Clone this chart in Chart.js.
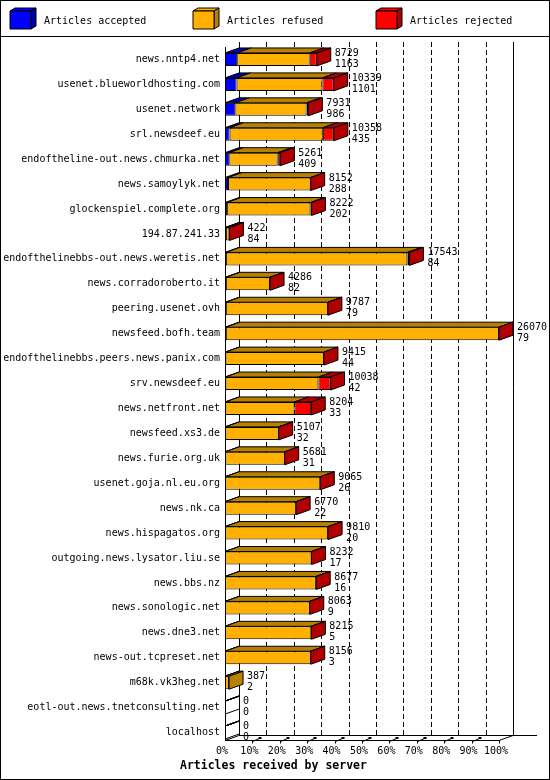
<!DOCTYPE html>
<html>
<head>
<meta charset="utf-8">
<script src="https://cdn.jsdelivr.net/npm/chart.js@4"></script>
<style>
html, body { margin: 0; padding: 0; background: #fff; }
canvas { display: block; }
</style>
</head>
<body>
<canvas id="chart" width="550" height="780"></canvas>
<script>
// servers, top to bottom
const servers = ['news.nntp4.net', 'usenet.blueworldhosting.com', 'usenet.network', 'srl.newsdeef.eu',
  'endoftheline-out.news.chmurka.net', 'news.samoylyk.net', 'glockenspiel.complete.org', '194.87.241.33',
  'endofthelinebbs-out.news.weretis.net', 'news.corradoroberto.it', 'peering.usenet.ovh', 'newsfeed.bofh.team',
  'endofthelinebbs.peers.news.panix.com', 'srv.newsdeef.eu', 'news.netfront.net', 'newsfeed.xs3.de',
  'news.furie.org.uk', 'usenet.goja.nl.eu.org', 'news.nk.ca', 'news.hispagatos.org',
  'outgoing.news.lysator.liu.se', 'news.bbs.nz', 'news.sonologic.net', 'news.dne3.net',
  'news-out.tcpreset.net', 'm68k.vk3heg.net', 'eotl-out.news.tnetconsulting.net', 'localhost'];
const accepted = [1163, 1101, 986, 435, 409, 288, 202, 84, 84, 82, 79, 79, 44, 42, 33, 32, 31, 26, 22, 20, 17, 16, 9, 5, 3, 2, 0, 0];
const refused = [6896, 8168, 6775, 8873, 4602, 7864, 7930, 338, 17269, 4204, 9708, 25991, 9371, 8846, 6581, 5075, 5650, 9039, 6748, 9790, 8215, 8661, 8054, 8210, 8153, 385, 0, 0];
const rejected = [670, 1070, 170, 1050, 250, 0, 90, 0, 190, 0, 0, 0, 0, 1150, 1590, 0, 0, 0, 0, 0, 0, 0, 0, 0, 0, null, 0, 0];
const tickValues = [0, 10, 20, 30, 40, 50, 60, 70, 80, 90, 100];

const seriesNames = ['Articles accepted', 'Articles refused', 'Articles rejected'];
const frontColors = ['#0000ff', '#ffb000', '#ff0000'];
const darkColors = ['#0000a8', '#b88000', '#b00000'];

const MONO = "'DejaVu Sans Mono', monospace";
const DX = 14, DY = 5;

const totals = servers.map((s, i) => accepted[i] + refused[i] + (rejected[i] || 0));
const maxTotal = Math.max(...totals);
const pct = arr => arr.map(v => v === null ? null : v / maxTotal * 100);

function poly(ctx, pts, fill) {
  ctx.beginPath();
  ctx.moveTo(pts[0][0], pts[0][1]);
  for (let i = 1; i < pts.length; i++) ctx.lineTo(pts[i][0], pts[i][1]);
  ctx.closePath();
  if (fill) { ctx.fillStyle = fill; ctx.fill(); }
  ctx.stroke();
}

function line(ctx, x0, y0, x1, y1) {
  ctx.beginPath();
  ctx.moveTo(x0, y0);
  ctx.lineTo(x1, y1);
  ctx.stroke();
}

const depth = {
  id: 'depth',
  beforeDraw(chart) {
    const ctx = chart.ctx;
    const { left, right, top, bottom } = chart.chartArea;
    const xs = chart.scales.x;
    const floorY = bottom - 4.5;
    ctx.save();
    ctx.fillStyle = '#fff';
    ctx.fillRect(0, 0, chart.width, chart.height);
    ctx.strokeStyle = '#000';
    ctx.lineWidth = 1;
    // frame and legend band
    ctx.strokeRect(0.5, 0.5, chart.width - 1, chart.height - 1);
    line(ctx, 0, 36.5, chart.width, 36.5);

    const legendX = [10, 193, 376];
    ctx.font = '10px ' + MONO;
    ctx.textBaseline = 'middle';
    legendX.forEach((x, i) => {
      const y = 11, w = 21, h = 18, d = 5, e = 3;
      poly(ctx, [[x, y], [x + w, y], [x + w + d, y - e], [x + d, y - e]], frontColors[i]);
      poly(ctx, [[x + w, y], [x + w + d, y - e], [x + w + d, y + h - e], [x + w, y + h]], darkColors[i]);
      poly(ctx, [[x, y], [x + w, y], [x + w, y + h], [x, y + h]], frontColors[i]);
      ctx.fillStyle = '#000';
      ctx.fillText(seriesNames[i], x + 34, 21);
    });

    // back wall
    const backTop = top - DY;
    const backBottom = floorY - DY;
    ctx.setLineDash([5, 3]);
    tickValues.slice(1, -1).forEach(v => {
      const x = Math.round(xs.getPixelForValue(v) + DX) + 0.5;
      line(ctx, x, backTop, x, backBottom);
    });
    ctx.setLineDash([]);
    line(ctx, Math.round(left + DX) + 0.5, backTop, Math.round(left + DX) + 0.5, backBottom);
    line(ctx, Math.round(right + DX) + 0.5, backTop, Math.round(right + DX) + 0.5, backBottom);
    line(ctx, Math.round(left) + 0.5, top, Math.round(left) + 0.5, floorY);

    // floor
    line(ctx, left, floorY, right, floorY);
    line(ctx, right, floorY, right + DX, backBottom);
    line(ctx, left, floorY, left + DX, backBottom);
    line(ctx, left + DX, backBottom, right + DX + 24, backBottom);
    ctx.fillStyle = '#000';
    tickValues.slice(1).forEach(v => {
      const x = Math.round(xs.getPixelForValue(v)) + 0.5;
      line(ctx, x, floorY, x, floorY + 3);
      if (v < 100) {
        line(ctx, x, floorY + 1, x + 7, floorY - 2);
        ctx.fillRect(x + 6, floorY - 3.5, 3, 2);
      }
    });
    ctx.restore();
  },
  afterDatasetsDraw(chart) {
    const ctx = chart.ctx;
    const metas = [0, 1, 2].map(i => chart.getDatasetMeta(i));
    ctx.save();
    ctx.strokeStyle = '#000';
    ctx.lineWidth = 1;
    servers.forEach((name, row) => {
      let last = null, lastIdx = -1, cy = 0, h = 0;
      metas.forEach((meta, di) => {
        const raw = chart.data.datasets[di].data[row];
        if (raw === null) return;
        const el = meta.data[row];
        const p = el.getProps(['x', 'y', 'base', 'height'], true);
        const x0 = Math.min(p.base, p.x), x1 = Math.max(p.base, p.x);
        const yTop = p.y - p.height / 2;
        poly(ctx, [[x0, yTop], [x1, yTop], [x1 + DX, yTop - DY], [x0 + DX, yTop - DY]], darkColors[di]);
        last = x1; lastIdx = di; cy = p.y; h = p.height;
      });
      if (lastIdx < 0) return;
      const yTop = cy - h / 2, yBot = cy + h / 2;
      if (totals[row] > 0) {
        poly(ctx, [[last, yTop], [last + DX, yTop - DY], [last + DX, yBot - DY], [last, yBot]], darkColors[lastIdx]);
      } else {
        line(ctx, last, yBot, last + DX, yBot - DY);
      }
      ctx.fillStyle = '#000';
      ctx.font = '10px ' + MONO;
      ctx.textBaseline = 'middle';
      ctx.textAlign = 'left';
      ctx.fillText(String(totals[row]), last + DX + 4, cy - 6);
      ctx.fillText(String(accepted[row]), last + DX + 4, cy + 5);
    });
    ctx.restore();
  },
  afterDraw(chart) {
    const ctx = chart.ctx;
    ctx.save();
    ctx.fillStyle = '#000';
    ctx.font = 'bold 11.5px ' + MONO;
    ctx.textBaseline = 'middle';
    ctx.fillText('Articles received by server', 180, 766);
    ctx.restore();
  }
};

new Chart(document.getElementById('chart'), {
  type: 'bar',
  data: {
    labels: servers,
    datasets: [
      { label: seriesNames[0], data: pct(accepted), backgroundColor: frontColors[0] },
      { label: seriesNames[1], data: pct(refused), backgroundColor: frontColors[1] },
      { label: seriesNames[2], data: pct(rejected), backgroundColor: frontColors[2] }
    ]
  },
  options: {
    indexAxis: 'y',
    responsive: false,
    animation: false,
    devicePixelRatio: 1,
    layout: { padding: { top: 47, right: 51, left: 0, bottom: 0 } },
    datasets: {
      bar: { barThickness: 13, borderWidth: 1, borderColor: '#000', borderSkipped: false, inflateAmount: 0 }
    },
    plugins: { legend: { display: false }, tooltip: { enabled: false } },
    scales: {
      x: {
        stacked: true,
        min: 0,
        max: 100,
        afterFit: s => { s.height = 35; },
        afterBuildTicks: s => { s.ticks = tickValues.map(v => ({ value: v })); },
        grid: { display: false, drawTicks: false },
        border: { display: false },
        ticks: {
          autoSkip: false,
          maxRotation: 0,
          padding: 0,
          labelOffset: -3,
          color: '#000',
          font: { family: MONO, size: 10 },
          callback: v => v + '%'
        }
      },
      y: {
        stacked: true,
        afterFit: s => { s.width = 225; },
        grid: { display: false, drawTicks: false },
        border: { display: false },
        ticks: {
          autoSkip: false,
          padding: 5,
          color: '#000',
          font: { family: MONO, size: 10 }
        }
      }
    }
  },
  plugins: [depth]
});
</script>
</body>
</html>
